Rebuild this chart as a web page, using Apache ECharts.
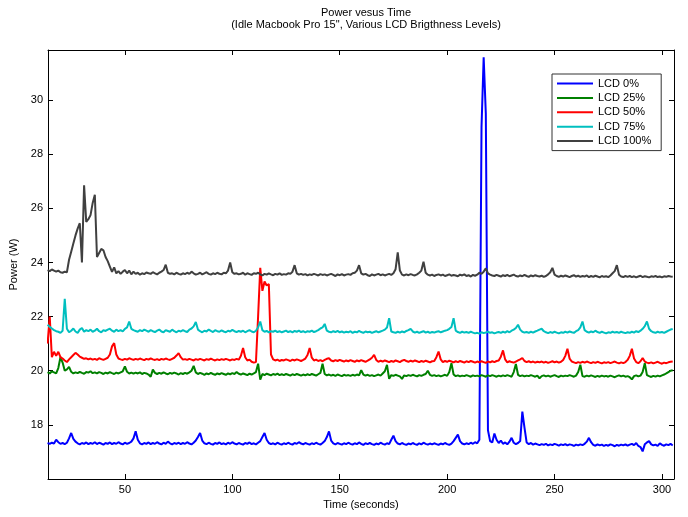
<!DOCTYPE html>
<html>
<head>
<meta charset="utf-8">
<script src="https://cdn.jsdelivr.net/npm/echarts@6/dist/echarts.min.js"></script>
<style>html,body{margin:0;padding:0;background:#fff;}#c{width:688px;height:517px;}</style>
</head>
<body>
<div id="c"></div>
<script>
// Sample times (seconds)
const time = [
14,15,16,17,18,19,20,21,22,23,
24,25,26,27,28,29,30,31,32,33,
34,35,36,37,38,39,40,41,42,43,
44,45,46,47,48,49,50,51,52,53,
54,55,56,57,58,59,60,61,62,63,
64,65,66,67,68,69,70,71,72,73,
74,75,76,77,78,79,80,81,82,83,
84,85,86,87,88,89,90,91,92,93,
94,95,96,97,98,99,100,101,102,103,
104,105,106,107,108,109,110,111,112,113,
114,115,116,117,118,119,120,121,122,123,
124,125,126,127,128,129,130,131,132,133,
134,135,136,137,138,139,140,141,142,143,
144,145,146,147,148,149,150,151,152,153,
154,155,156,157,158,159,160,161,162,163,
164,165,166,167,168,169,170,171,172,173,
174,175,176,177,178,179,180,181,182,183,
184,185,186,187,188,189,190,191,192,193,
194,195,196,197,198,199,200,201,202,203,
204,205,206,207,208,209,210,211,212,213,
214,215,216,217,218,219,220,221,222,223,
224,225,226,227,228,229,230,231,232,233,
234,235,236,237,238,239,240,241,242,243,
244,245,246,247,248,249,250,251,252,253,
254,255,256,257,258,259,260,261,262,263,
264,265,266,267,268,269,270,271,272,273,
274,275,276,277,278,279,280,281,282,283,
284,285,286,287,288,289,290,291,292,293,
294,295,296,297,298,299,300,301,302,303,
304,305
];

const lcd0 = [
17.33,17.30,17.34,17.31,17.45,17.36,17.30,17.33,17.29,17.34,
17.50,17.70,17.48,17.38,17.32,17.28,17.33,17.30,17.35,17.29,
17.33,17.30,17.36,17.29,17.34,17.31,17.27,17.33,17.30,17.35,
17.29,17.33,17.30,17.36,17.31,17.28,17.34,17.30,17.33,17.38,
17.50,17.76,17.45,17.32,17.28,17.33,17.30,17.35,17.29,17.33,
17.30,17.36,17.31,17.28,17.34,17.30,17.38,17.32,17.28,17.33,
17.30,17.34,17.29,17.33,17.30,17.36,17.31,17.28,17.34,17.42,
17.55,17.70,17.42,17.32,17.29,17.34,17.30,17.27,17.33,17.30,
17.35,17.29,17.32,17.28,17.34,17.30,17.36,17.31,17.28,17.33,
17.30,17.27,17.33,17.30,17.35,17.29,17.32,17.28,17.34,17.40,
17.55,17.70,17.45,17.33,17.29,17.32,17.28,17.34,17.30,17.27,
17.32,17.29,17.34,17.30,17.27,17.33,17.30,17.36,17.31,17.28,
17.33,17.30,17.27,17.32,17.29,17.34,17.30,17.27,17.33,17.40,
17.55,17.76,17.42,17.32,17.28,17.33,17.30,17.27,17.32,17.29,
17.34,17.30,17.27,17.32,17.29,17.35,17.30,17.26,17.32,17.29,
17.33,17.29,17.26,17.31,17.28,17.34,17.30,17.27,17.32,17.29,
17.45,17.60,17.40,17.31,17.28,17.33,17.29,17.26,17.31,17.28,
17.33,17.29,17.26,17.32,17.28,17.34,17.30,17.27,17.31,17.28,
17.32,17.29,17.26,17.31,17.28,17.33,17.29,17.26,17.31,17.40,
17.52,17.64,17.40,17.31,17.28,17.32,17.29,17.34,17.30,17.36,
17.32,17.45,29.00,31.58,29.50,17.80,17.40,17.35,17.68,17.45,
17.33,17.42,17.30,17.35,17.28,17.38,17.52,17.34,17.29,17.33,
17.40,18.49,17.90,17.35,17.29,17.33,17.27,17.31,17.28,17.25,
17.29,17.26,17.30,17.24,17.28,17.25,17.30,17.27,17.23,17.28,
17.25,17.29,17.24,17.28,17.26,17.22,17.27,17.24,17.28,17.25,
17.30,17.38,17.52,17.36,17.26,17.23,17.28,17.24,17.27,17.22,
17.26,17.23,17.28,17.25,17.21,17.26,17.23,17.27,17.24,17.28,
17.23,17.27,17.30,17.25,17.33,17.22,17.18,17.02,17.28,17.35,
17.40,17.28,17.24,17.27,17.22,17.32,17.26,17.23,17.28,17.25,
17.30,17.24
];

const lcd25 = [
19.95,19.90,19.98,19.94,19.90,20.10,20.50,20.30,20.00,20.05,
20.14,19.96,19.90,19.94,19.91,19.96,19.92,19.89,19.95,19.93,
19.98,19.91,19.94,19.90,19.95,19.92,19.88,19.93,19.90,19.95,
19.91,19.88,19.93,19.90,19.94,19.98,20.16,19.96,19.90,19.93,
19.89,19.93,19.90,19.94,19.88,19.92,19.90,19.86,19.78,20.04,
19.92,19.88,19.92,19.89,19.94,19.90,19.87,19.92,19.89,19.93,
19.90,19.86,19.91,19.88,19.92,19.89,19.94,20.00,20.18,19.94,
19.88,19.92,19.89,19.85,19.90,19.87,19.92,19.88,19.85,19.90,
19.87,19.91,19.88,19.85,19.90,19.87,19.91,19.88,19.95,19.89,
19.86,19.90,19.87,19.84,19.89,19.86,19.90,19.95,20.26,19.67,
19.88,19.84,19.89,19.86,19.83,19.88,19.85,19.89,19.84,19.87,
19.84,19.88,19.85,19.82,19.87,19.84,19.88,19.85,19.82,19.86,
19.83,19.87,19.84,19.88,19.85,19.82,19.87,19.92,20.26,19.88,
19.83,19.86,19.82,19.85,19.81,19.86,19.83,19.80,19.85,19.82,
19.84,19.81,19.85,19.82,19.86,19.83,20.02,19.86,19.82,19.85,
19.81,19.84,19.80,19.83,19.86,19.82,19.90,19.98,20.22,19.70,
19.84,19.81,19.85,19.82,19.79,19.70,19.83,19.80,19.84,19.81,
19.85,19.82,19.79,19.84,19.81,19.85,19.88,20.00,19.85,19.81,
19.84,19.80,19.83,19.79,19.82,19.85,19.81,19.95,20.28,19.86,
19.80,19.83,19.79,19.82,19.80,19.84,19.81,19.78,19.83,19.80,
19.82,19.79,19.84,19.81,19.78,19.83,19.80,19.84,19.81,19.78,
19.82,19.79,19.83,19.80,19.84,19.81,19.78,19.95,20.25,19.85,
19.80,19.83,19.79,19.82,19.80,19.84,19.81,19.78,19.82,19.72,
19.80,19.83,19.79,19.82,19.78,19.81,19.84,19.80,19.77,19.82,
19.79,19.82,19.80,19.84,19.81,19.78,19.82,19.95,20.22,19.80,
19.78,19.82,19.79,19.83,19.80,19.77,19.81,19.78,19.82,19.79,
19.81,19.78,19.82,19.79,19.76,19.80,19.83,19.79,19.82,19.78,
19.80,19.76,19.68,19.80,19.83,19.79,19.82,19.95,20.28,19.84,
19.80,19.77,19.81,19.78,19.82,19.79,19.83,19.86,19.90,19.95,
20.00,20.02
];

const lcd50 = [
21.00,22.00,20.50,20.70,20.55,20.70,20.50,20.45,20.38,20.32,
20.42,20.50,20.58,20.66,20.60,20.52,20.48,20.44,20.46,20.42,
20.45,20.41,20.44,20.40,20.46,20.43,20.40,20.44,20.48,20.60,
20.90,21.02,20.60,20.45,20.42,20.40,20.44,20.41,20.46,20.43,
20.40,20.44,20.41,20.45,20.42,20.39,20.44,20.41,20.46,20.42,
20.40,20.43,20.39,20.44,20.41,20.45,20.42,20.40,20.44,20.48,
20.56,20.65,20.50,20.41,20.43,20.40,20.44,20.41,20.38,20.43,
20.40,20.44,20.41,20.38,20.43,20.40,20.45,20.41,20.38,20.42,
20.39,20.43,20.40,20.44,20.41,20.38,20.42,20.40,20.44,20.41,
20.55,20.84,20.50,20.38,20.41,20.33,20.30,20.32,22.00,23.80,
22.95,23.30,23.15,23.20,20.60,20.42,20.38,20.41,20.36,20.40,
20.38,20.42,20.39,20.36,20.41,20.38,20.42,20.39,20.36,20.40,
20.45,20.58,20.84,20.48,20.38,20.41,20.36,20.39,20.35,20.40,
20.44,20.46,20.38,20.35,20.39,20.36,20.40,20.37,20.34,20.38,
20.35,20.39,20.36,20.33,20.38,20.35,20.39,20.36,20.33,20.37,
20.42,20.48,20.59,20.40,20.33,20.37,20.34,20.38,20.35,20.32,
20.36,20.33,20.38,20.35,20.32,20.37,20.40,20.36,20.33,20.37,
20.34,20.38,20.35,20.32,20.36,20.33,20.37,20.34,20.31,20.35,
20.36,20.50,20.71,20.42,20.32,20.36,20.33,20.37,20.34,20.31,
20.35,20.32,20.36,20.33,20.30,20.35,20.32,20.36,20.33,20.30,
20.34,20.31,20.35,20.32,20.29,20.34,20.31,20.35,20.32,20.36,
20.38,20.52,20.75,20.42,20.31,20.35,20.32,20.30,20.34,20.38,
20.42,20.47,20.36,20.32,20.35,20.31,20.34,20.30,20.33,20.31,
20.34,20.30,20.33,20.29,20.32,20.35,20.31,20.34,20.30,20.33,
20.40,20.55,20.81,20.45,20.34,20.31,20.28,20.32,20.29,20.33,
20.30,20.34,20.31,20.28,20.32,20.29,20.33,20.30,20.27,20.31,
20.29,20.32,20.28,20.31,20.34,20.30,20.27,20.31,20.28,20.32,
20.40,20.55,20.81,20.45,20.32,20.28,20.35,20.47,20.34,20.30,
20.28,20.31,20.27,20.30,20.33,20.29,20.26,20.30,20.28,20.31,
20.33,20.34
];

const lcd75 = [
21.70,21.62,21.56,21.50,21.46,21.44,21.40,21.48,22.66,21.55,
21.42,21.48,21.56,21.45,21.40,21.52,21.58,21.44,21.50,21.46,
21.52,21.44,21.48,21.55,21.46,21.42,21.50,21.47,21.52,21.55,
21.48,21.44,21.52,21.46,21.50,21.45,21.55,21.60,21.82,21.55,
21.50,21.47,21.44,21.50,21.46,21.52,21.48,21.44,21.50,21.46,
21.43,21.48,21.52,21.45,21.42,21.50,21.47,21.44,21.52,21.46,
21.42,21.48,21.45,21.50,21.46,21.43,21.52,21.56,21.64,21.80,
21.52,21.46,21.42,21.48,21.45,21.52,21.47,21.43,21.50,21.46,
21.44,21.49,21.45,21.42,21.48,21.45,21.51,21.46,21.43,21.47,
21.44,21.48,21.42,21.46,21.50,21.45,21.42,21.48,21.60,21.82,
21.50,21.44,21.47,21.42,21.46,21.44,21.48,21.43,21.46,21.42,
21.45,21.48,21.43,21.46,21.42,21.47,21.44,21.48,21.43,21.46,
21.42,21.46,21.44,21.48,21.43,21.46,21.50,21.56,21.60,21.73,
21.48,21.44,21.42,21.46,21.43,21.47,21.42,21.45,21.41,21.44,
21.42,21.46,21.40,21.44,21.42,21.47,21.43,21.40,21.45,21.42,
21.44,21.40,21.43,21.46,21.42,21.45,21.48,21.52,21.60,21.94,
21.45,21.42,21.40,21.44,21.41,21.45,21.42,21.47,21.50,21.55,
21.45,21.41,21.44,21.40,21.43,21.46,21.41,21.44,21.40,21.43,
21.41,21.44,21.46,21.42,21.45,21.48,21.50,21.55,21.62,21.94,
21.48,21.43,21.40,21.44,21.41,21.43,21.40,21.44,21.41,21.38,
21.40,21.37,21.42,21.39,21.41,21.44,21.40,21.42,21.38,21.41,
21.43,21.40,21.44,21.41,21.46,21.42,21.48,21.52,21.58,21.70,
21.52,21.44,21.41,21.43,21.40,21.44,21.41,21.45,21.48,21.52,
21.55,21.46,21.42,21.39,21.43,21.40,21.44,21.41,21.38,21.42,
21.40,21.44,21.41,21.45,21.42,21.40,21.46,21.50,21.60,21.82,
21.50,21.44,21.41,21.45,21.42,21.48,21.43,21.40,21.44,21.41,
21.38,21.42,21.40,21.44,21.41,21.43,21.40,21.44,21.41,21.39,
21.42,21.40,21.44,21.41,21.46,21.43,21.48,21.55,21.65,21.82,
21.55,21.46,21.42,21.40,21.44,21.41,21.43,21.40,21.44,21.48,
21.52,21.54
];

const lcd100 = [
23.72,23.68,23.74,23.70,23.66,23.70,23.64,23.62,23.66,23.64,
24.10,24.40,24.70,25.00,25.25,25.45,24.00,26.85,25.50,25.60,
25.75,26.20,26.50,24.20,24.35,24.50,24.45,24.20,24.05,23.85,
23.65,23.82,23.60,23.68,23.58,23.66,23.72,23.60,23.70,23.56,
23.66,23.58,23.62,23.55,23.60,23.57,23.63,23.60,23.58,23.64,
23.60,23.56,23.62,23.66,23.72,23.92,23.62,23.58,23.60,23.56,
23.62,23.58,23.55,23.60,23.57,23.62,23.58,23.66,23.60,23.55,
23.58,23.62,23.56,23.60,23.64,23.58,23.55,23.60,23.57,23.62,
23.58,23.56,23.62,23.60,23.70,24.00,23.64,23.58,23.60,23.56,
23.58,23.62,23.55,23.60,23.57,23.54,23.60,23.58,23.62,23.56,
23.52,23.58,23.55,23.60,23.56,23.53,23.58,23.55,23.60,23.54,
23.57,23.55,23.60,23.58,23.66,23.90,23.60,23.55,23.58,23.54,
23.57,23.52,23.56,23.54,23.58,23.55,23.52,23.57,23.54,23.56,
23.52,23.55,23.58,23.54,23.50,23.56,23.53,23.57,23.52,23.55,
23.57,23.54,23.60,23.62,23.70,23.90,23.60,23.55,23.58,23.53,
23.50,23.56,23.52,23.55,23.58,23.53,23.56,23.52,23.55,23.58,
23.54,23.60,23.75,24.37,23.70,23.55,23.52,23.56,23.53,23.57,
23.54,23.52,23.56,23.62,23.70,24.03,23.62,23.55,23.52,23.55,
23.50,23.54,23.56,23.52,23.55,23.50,23.53,23.56,23.51,23.54,
23.52,23.49,23.55,23.52,23.56,23.50,23.53,23.48,23.54,23.51,
23.55,23.62,23.58,23.66,23.78,23.60,23.55,23.52,23.50,23.54,
23.51,23.48,23.53,23.50,23.54,23.49,23.52,23.55,23.50,23.48,
23.52,23.49,23.54,23.50,23.47,23.52,23.49,23.53,23.50,23.48,
23.51,23.47,23.50,23.56,23.64,23.80,23.55,23.50,23.47,23.51,
23.48,23.52,23.49,23.46,23.50,23.53,23.48,23.51,23.47,23.50,
23.48,23.52,23.46,23.50,23.47,23.51,23.48,23.45,23.50,23.47,
23.49,23.46,23.52,23.60,23.68,23.90,23.55,23.48,23.46,23.50,
23.47,23.50,23.46,23.49,23.45,23.48,23.51,23.46,23.49,23.47,
23.45,23.49,23.47,23.50,23.46,23.48,23.45,23.49,23.47,23.50,
23.48,23.47
];

const seriesNames = ['LCD 0%', 'LCD 25%', 'LCD 50%', 'LCD 75%', 'LCD 100%'];
const seriesValues = [lcd0, lcd25, lcd50, lcd75, lcd100];
const seriesColors = ['#0000ff', '#008000', '#ff0000', '#00bfbf', '#404040'];
const xTicks = [50, 100, 150, 200, 250, 300];
const yTicks = [18, 20, 22, 24, 26, 28, 30];

const FONT = '"Liberation Sans", Arial, Helvetica, sans-serif';
const chart = echarts.init(document.getElementById('c'), null, {renderer: 'canvas'});

function mkX(pos, labels) {
  return {
    type: 'value', position: pos, min: 14.2, max: 305.6,
    splitLine: {show: false},
    axisLine: {show: true, onZero: false, lineStyle: {color: '#000', width: 1}},
    axisTick: {show: true, inside: true, length: 5, customValues: xTicks, lineStyle: {color: '#000'}},
    axisLabel: {show: labels, customValues: xTicks, color: '#000', fontSize: 11, fontFamily: FONT, margin: 5},
    name: labels ? 'Time (seconds)' : '', nameLocation: 'middle', nameGap: 20,
    nameTextStyle: {color: '#000', fontSize: 11, fontFamily: FONT}
  };
}
function mkY(pos, labels) {
  return {
    type: 'value', position: pos, min: 16.0, max: 31.85,
    splitLine: {show: false},
    axisLine: {show: true, onZero: false, lineStyle: {color: '#000', width: 1}},
    axisTick: {show: true, inside: true, length: 5, customValues: yTicks, lineStyle: {color: '#000'}},
    axisLabel: {show: labels, customValues: yTicks, color: '#000', fontSize: 11, fontFamily: FONT, margin: 5},
    name: labels ? 'Power (W)' : '', nameLocation: 'middle', nameGap: 25,
    nameTextStyle: {color: '#000', fontSize: 11, fontFamily: FONT}
  };
}

const option = {
  animation: false,
  backgroundColor: '#fff',
  title: {
    text: 'Power vesus Time',
    subtext: '(Idle Macbook Pro 15", Various LCD Brigthness Levels)',
    left: 361, top: 2, textAlign: 'center', itemGap: 1,
    textStyle: {fontSize: 11, fontWeight: 'normal', color: '#000', fontFamily: FONT},
    subtextStyle: {fontSize: 11, color: '#000', fontFamily: FONT}
  },
  grid: {left: 48, right: 14, top: 50, bottom: 38, containLabel: false},
  xAxis: [mkX('bottom', true), mkX('top', false)],
  yAxis: [mkY('left', true), mkY('right', false)],
  legend: {
    orient: 'vertical', left: 552, top: 74,
    itemWidth: 36, itemHeight: 12, itemGap: 3.4,
    padding: [4, 10, 4, 4],
    borderColor: '#333', borderWidth: 1, backgroundColor: '#fff',
    itemStyle: {opacity: 0},
    textStyle: {fontSize: 11, color: '#000', fontFamily: FONT},
    data: seriesNames
  },
  series: seriesNames.map((n, k) => ({
    name: n, type: 'line', xAxisIndex: 0, yAxisIndex: 0,
    symbol: 'none', showSymbol: false,
    lineStyle: {width: 2, color: seriesColors[k]},
    itemStyle: {color: seriesColors[k]},
    data: time.map((t, i) => [t, seriesValues[k][i]])
  }))
};
chart.setOption(option);
</script>
</body>
</html>
